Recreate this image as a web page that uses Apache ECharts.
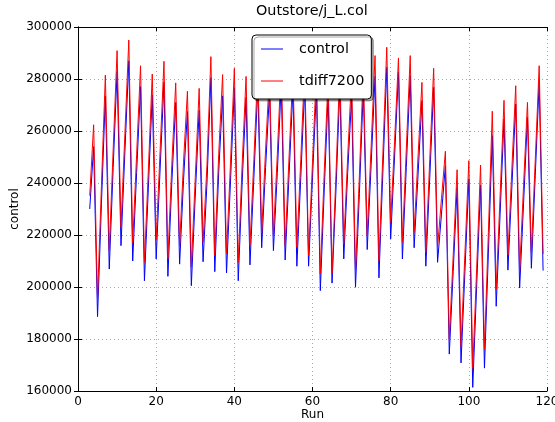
<!DOCTYPE html>
<html>
<head>
<meta charset="utf-8">
<script src="https://cdn.jsdelivr.net/npm/echarts@6/dist/echarts.min.js"></script>
<style>
html,body{margin:0;padding:0;background:#fff;}
#chart{width:555px;height:422px;}
</style>
</head>
<body>
<div id="chart"></div>
<script>
const runs = [3,4,5,6,7,8,9,10,11,12,13,14,15,16,17,18,19,20,21,22,23,24,25,26,27,28,29,30,31,32,33,34,35,36,37,38,39,40,41,42,43,44,45,46,47,48,49,50,51,52,53,54,55,56,57,58,59,60,61,62,63,64,65,66,67,68,69,70,71,72,73,74,75,76,77,78,79,80,81,82,83,84,85,86,87,88,89,90,91,92,93,94,95,96,97,98,99,100,101,102,103,104,105,106,107,108,109,110,111,112,113,114,115,116,117,118,119];

const control = [230000,254000,188600,232000,273500,206900,246000,282900,215900,252000,287000,210000,244000,277100,202400,238000,273900,210800,245000,278800,204100,240000,
271000,208800,241000,267500,200500,235000,268000,209700,240000,280500,205900,244000,273500,205400,240000,276500,202400,240000,273000,208500,242000,277000,215100,246000,275000,214000,244000,278000,210400,243000,276000,208000,242000,277000,208000,242000,276000,198600,237000,274000,201500,237000,277000,210800,244000,273000,199900,236000,276000,214400,247000,281000,203500,244000,284500,218500,250000,282600,210800,246000,281300,215100,243000,271700,208000,242000,276800,209500,228000,246700,174200,206000,238300,170800,206000,241500,161400,200000,239200,168800,213000,258200,192600,228000,264600,206500,238000,270400,199600,232000,265300,207200,243000,278700,206300];

const tdiff7200 = [235100,262400,195400,239000,281500,214000,253000,290900,223000,259000,295000,217000,251000,285100,209500,245000,281900,218000,252000,286800,211000,247000,
278500,215900,248000,275300,207600,242000,276400,217200,247000,288600,212100,251000,281700,212800,247000,284100,209500,247000,281000,215900,249000,284000,221000,253000,282000,219700,251000,286000,215900,250000,283000,215300,249000,285000,212100,248000,283000,205000,244000,281000,205000,243000,284000,216500,250000,281000,206000,243000,283000,220000,254000,289000,210100,251000,292200,224900,256000,288100,217200,253000,289000,221000,250000,278700,213300,249000,284100,215300,234000,252200,180000,212000,245100,177200,213000,248600,168700,207000,246900,175900,221000,267600,199200,235000,271800,212300,245000,277400,206300,239000,271000,213300,249000,285100,212700];

const xTicks = {min: 0, max: 120, interval: 20};
const yTicks = {min: 160000, max: 300000, interval: 20000};
const seriesNames = ['control', 'tdiff7200'];

const FONT = 'DejaVu Sans';
const chart = echarts.init(document.getElementById('chart'), null, {renderer: 'canvas'});

function pairs(xs, ys) { return xs.map((x, i) => [x, ys[i]]); }

const gridLine = {show: true, lineStyle: {color: '#a8a8a8', width: 1, type: [1, 3]}};
const tick = {show: true, inside: true, length: 4, lineStyle: {color: '#000', width: 1}};
const axLine = {show: true, lineStyle: {color: '#000', width: 1}};

chart.setOption({
  animation: false,
  backgroundColor: '#fff',
  title: {
    text: 'Outstore/j_L.col',
    left: 256, top: 4, padding: 0,
    textStyle: {fontFamily: FONT, fontSize: 14.4, fontWeight: 'normal', color: '#000'}
  },
  grid: {left: 78, right: 8, top: 27, bottom: 31, containLabel: false, outerBoundsMode: 'none'},
  legend: {
    data: seriesNames,
    orient: 'vertical',
    left: 252, top: 35,
    padding: [7, 7, 11, 9],
    itemGap: 18,
    itemWidth: 22, itemHeight: 1,
    icon: 'rect',
    backgroundColor: '#fff',
    borderColor: '#000', borderWidth: 1, borderRadius: 4,
    shadowColor: 'rgba(0,0,0,0.35)', shadowOffsetX: 2, shadowOffsetY: 2, shadowBlur: 0,
    textStyle: {fontFamily: FONT, fontSize: 14.4, color: '#000', padding: [0, 0, 0, 11]}
  },
  xAxis: [
    {type: 'value', position: 'bottom', min: xTicks.min, max: xTicks.max, interval: xTicks.interval,
     axisLine: axLine, axisTick: tick, splitLine: gridLine,
     axisLabel: {color: '#000', fontFamily: FONT, fontSize: 12, margin: 5},
     name: 'Run', nameLocation: 'middle', nameGap: 24, nameMoveOverlap: false,
     nameTextStyle: {fontFamily: FONT, fontSize: 12, color: '#000', verticalAlign: 'middle'}},
    {type: 'value', position: 'top', min: xTicks.min, max: xTicks.max, interval: xTicks.interval,
     axisLine: axLine, axisTick: tick, splitLine: {show: false}, axisLabel: {show: false}}
  ],
  yAxis: [
    {type: 'value', position: 'left', min: yTicks.min, max: yTicks.max, interval: yTicks.interval,
     axisLine: axLine, axisTick: tick, splitLine: gridLine,
     axisLabel: {color: '#000', fontFamily: FONT, fontSize: 12, margin: 6, formatter: v => String(v)},
     name: 'control', nameLocation: 'middle', nameGap: 63, nameMoveOverlap: false,
     nameTextStyle: {fontFamily: FONT, fontSize: 12, color: '#000', verticalAlign: 'middle'}},
    {type: 'value', position: 'right', min: yTicks.min, max: yTicks.max, interval: yTicks.interval,
     axisLine: axLine, axisTick: tick, splitLine: {show: false}, axisLabel: {show: false}}
  ],
  series: [
    {name: seriesNames[0], type: 'line', xAxisIndex: 0, yAxisIndex: 0, data: pairs(runs, control),
     showSymbol: false, symbol: 'none', color: '#0000ff', lineStyle: {color: '#0000ff', width: 1}},
    {name: seriesNames[1], type: 'line', xAxisIndex: 0, yAxisIndex: 0, data: pairs(runs, tdiff7200),
     showSymbol: false, symbol: 'none', color: '#ff0000', lineStyle: {color: '#ff0000', width: 1}}
  ]
});
</script>
</body>
</html>
